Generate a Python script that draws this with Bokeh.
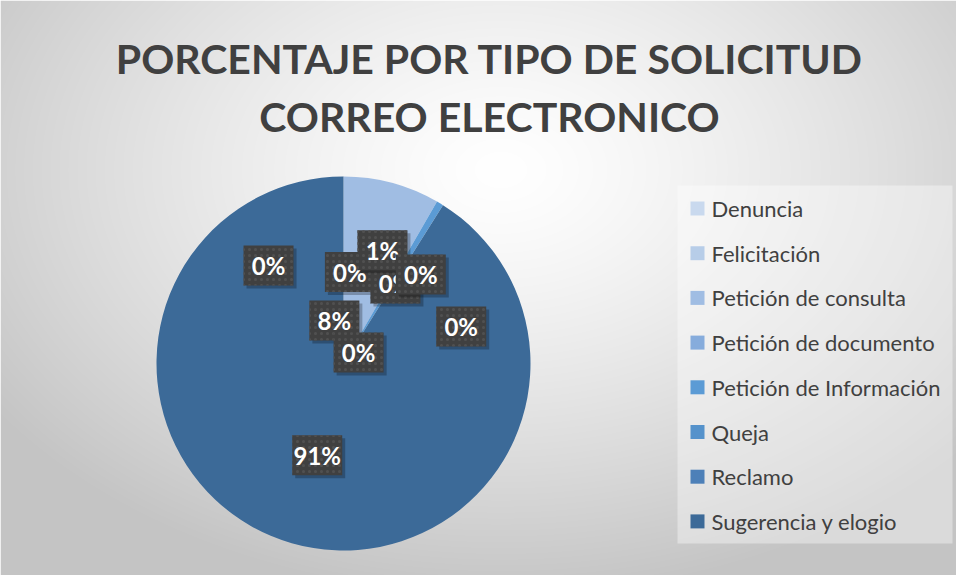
import numpy as np
from bokeh.plotting import figure
from bokeh.models import Range1d, ColumnDataSource
from bokeh.core.properties import value
from bokeh.embed import file_html
from bokeh.resources import INLINE

# ---------------- data ----------------
CATEGORIES = ["Denuncia", "Felicitación", "Petición de consulta", "Petición de documento",
              "Petición de Información", "Queja", "Reclamo", "Sugerencia y elogio", "Otros"]
COUNTS = [0, 0, 14, 0, 1, 0, 0, 153, 0]
LEGEND_SHOWN = 8  # the legend box only fits the first 8 entries
TITLE_LINES = ["PORCENTAJE POR TIPO DE SOLICITUD", "CORREO ELECTRONICO"]

# ---------------- style / layout ----------------
COLORS = ["#c9d9ee", "#b7cde8", "#a0bde3", "#86acdc", "#5b9bd5", "#5592cb", "#4d80b8", "#3c6a98", "#36608a"]
# label placement (fraction of radius, degrees clockwise from 12 o'clock)
LABEL_R = [0.49, 0.51, 0.235, 0.10, 0.64, 0.63, 0.66, 0.51, 0.66]
LABEL_A = [4, 33, 348, 54, 19, 41, 72.5, 196, 322.6]

W, H = 956, 575
CX, CY, R = 343, H - 363, 187
FONT = "Lato"

p = figure(width=W, height=H, output_backend="svg", toolbar_location=None,
           x_range=Range1d(0, W), y_range=Range1d(0, H), min_border=0)
p.axis.visible = False
p.grid.visible = False
p.outline_line_color = None
p.background_fill_color = "#ffffff"
p.border_fill_color = "#ffffff"

# background radial gradient (styling)
gx, gy = np.meshgrid(np.arange(W), np.arange(H))
t = np.sqrt(((gx - 500) / 620.0) ** 2 + ((gy - (H - 170)) / 430.0) ** 2)
t = np.clip(t, 0, 1)
g = (255 - (255 - 196) * t ** 1.3).astype(np.uint32)
img = (255 << 24) | (g << 16) | (g << 8) | g
p.image_rgba(image=[img.view(np.uint32)], x=0, y=0, dw=W, dh=H)

# legend box
p.quad(left=677, right=952, bottom=H - 543, top=H - 185, fill_color="white", fill_alpha=0.38, line_color=None)

# pie (zero-valued slices have no area and are skipped)
vals = np.array(COUNTS, dtype=float)
frac = vals / vals.sum()
cum = np.concatenate([[0], np.cumsum(frac)])
start = np.pi / 2 - cum[:-1] * 2 * np.pi
end = np.pi / 2 - cum[1:] * 2 * np.pi
keep = vals > 0
src = ColumnDataSource(dict(start=start[keep], end=end[keep],
                            color=[c for c, k in zip(COLORS, keep) if k],
                            cat=[c for c, k in zip(CATEGORIES, keep) if k]))
p.wedge(x=CX, y=CY, radius=R, start_angle="start", end_angle="end", direction="clock",
        fill_color="color", line_color=None, source=src)

# data labels
pct = [f"{round(f * 100):.0f}%" for f in frac]
BW, BH = 50, 40
for i in range(len(CATEGORIES)):
    a = np.deg2rad(LABEL_A[i])
    lx = CX + LABEL_R[i] * R * np.sin(a)
    ly = CY + LABEL_R[i] * R * np.cos(a)
    s = ColumnDataSource(dict(x=[lx], y=[ly], sx=[lx + 3], sy=[ly - 3], t=[pct[i]]))
    p.rect(x="sx", y="sy", width=BW, height=BH, fill_color="black", fill_alpha=0.25, line_color=None, source=s)
    p.rect(x="x", y="y", width=BW, height=BH, fill_color="#404040", line_color=None,
           hatch_pattern="dot", hatch_color="#505050", hatch_scale=6, hatch_weight=1, source=s)
    p.text(x="x", y="y", text="t", text_color="white", text_font=value(FONT), text_font_style="bold",
           text_font_size="24px", text_align="center", text_baseline="middle", source=s)

# legend entries
ly0 = [H - (208 + i * 44.7) for i in range(LEGEND_SHOWN)]
lsrc = ColumnDataSource(dict(y=ly0, c=COLORS[:LEGEND_SHOWN], t=CATEGORIES[:LEGEND_SHOWN]))
p.rect(x=697, y="y", width=14, height=14, fill_color="c", line_color=None, source=lsrc)
p.text(x=711, y="y", text="t", text_color="#404040", text_font=value(FONT), text_font_size="22px",
       text_align="left", text_baseline="middle", source=lsrc)

# title
tsrc = ColumnDataSource(dict(x=[489, 489], y=[H - 58, H - 116], t=TITLE_LINES))
p.text(x="x", y="y", text="t", text_color="#404040", text_font=value(FONT), text_font_style="bold",
       text_font_size="41px", text_align="center", text_baseline="middle", source=tsrc)

open("out.html", "w").write(file_html(p, INLINE))
